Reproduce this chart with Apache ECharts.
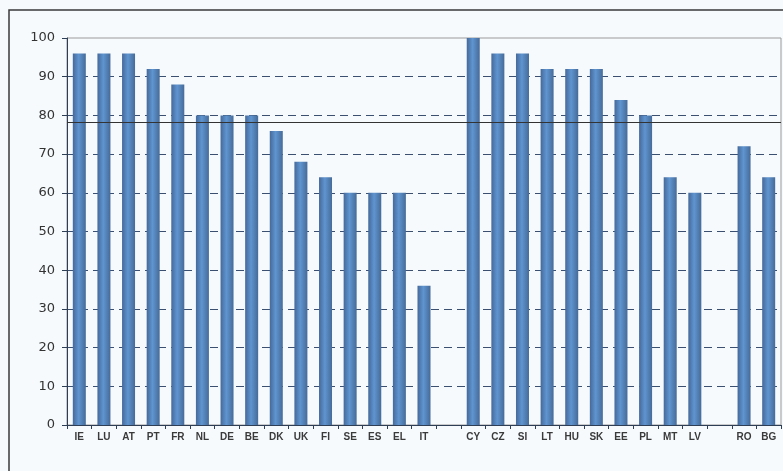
<!DOCTYPE html>
<html>
<head>
<meta charset="utf-8">
<script src="https://cdn.jsdelivr.net/npm/echarts@6/dist/echarts.min.js"></script>
<style>
  html, body { margin: 0; padding: 0; background: #f6fafd; }
  #chart { width: 783px; height: 471px; }
</style>
</head>
<body>
<div id="chart"></div>
<script>
// country groups, blank slots separate them
const categories = ['IE', 'LU', 'AT', 'PT', 'FR', 'NL', 'DE', 'BE', 'DK', 'UK', 'FI', 'SE', 'ES', 'EL', 'IT', '',
    'CY', 'CZ', 'SI', 'LT', 'HU', 'SK', 'EE', 'PL', 'MT', 'LV', ' ', 'RO', 'BG'];
const values = [96, 96, 96, 92, 88, 80, 80, 80, 76, 68, 64, 60, 60, 60, 36, null,
    100, 96, 96, 92, 92, 92, 84, 80, 64, 60, null, 72, 64];
const averageLine = 78.3;
const yTicks = { min: 0, max: 100, interval: 10 };

const chart = echarts.init(document.getElementById('chart'), null, { renderer: 'canvas' });

const barColor = new echarts.graphic.LinearGradient(0, 0, 1, 0, [
    { offset: 0, color: '#46699a' },
    { offset: 0.45, color: '#5f95d0' },
    { offset: 1, color: '#466b98' }
]);

const option = {
    backgroundColor: '#f6fafd',
    animation: false,
    graphic: [
        {
            type: 'rect',
            shape: { x: 9, y: 10, width: 800, height: 500 },
            style: { fill: 'none', stroke: '#3a3a3a', lineWidth: 1.5 },
            silent: true
        }
    ],
    grid: {
        left: 67,
        right: 2,
        top: 38,
        bottom: 46,
        show: true,
        borderColor: '#9a9a9a',
        borderWidth: 1,
        backgroundColor: 'transparent'
    },
    xAxis: {
        type: 'category',
        data: categories,
        axisLine: { lineStyle: { color: '#2e3e55', width: 1 } },
        axisTick: { show: true, length: 4, alignWithLabel: false, lineStyle: { color: '#2e3e55' } },
        axisLabel: {
            interval: 0,
            margin: 7,
            fontSize: 10,
            fontWeight: 'bold',
            fontFamily: 'Liberation Sans Narrow, Arial, sans-serif',
            color: '#3a3a3a'
        }
    },
    yAxis: {
        type: 'value',
        min: yTicks.min,
        max: yTicks.max,
        interval: yTicks.interval,
        axisLine: { show: true, lineStyle: { color: '#2e3e55', width: 1 } },
        axisTick: { show: true, length: 5, lineStyle: { color: '#2e3e55' } },
        axisLabel: {
            margin: 12,
            fontSize: 13,
            fontFamily: 'DejaVu Sans, sans-serif',
            color: '#333'
        },
        splitLine: {
            show: true,
            showMinLine: false,
            showMaxLine: false,
            lineStyle: { type: [8, 5], color: '#3b5070', width: 1 }
        }
    },
    series: [
        {
            type: 'bar',
            data: values,
            barWidth: 13,
            itemStyle: { color: barColor },
            markLine: {
                silent: true,
                symbol: 'none',
                label: { show: false },
                lineStyle: { type: 'solid', color: '#333', width: 1 },
                data: [{ yAxis: averageLine }]
            }
        }
    ]
};

chart.setOption(option);
</script>
</body>
</html>
